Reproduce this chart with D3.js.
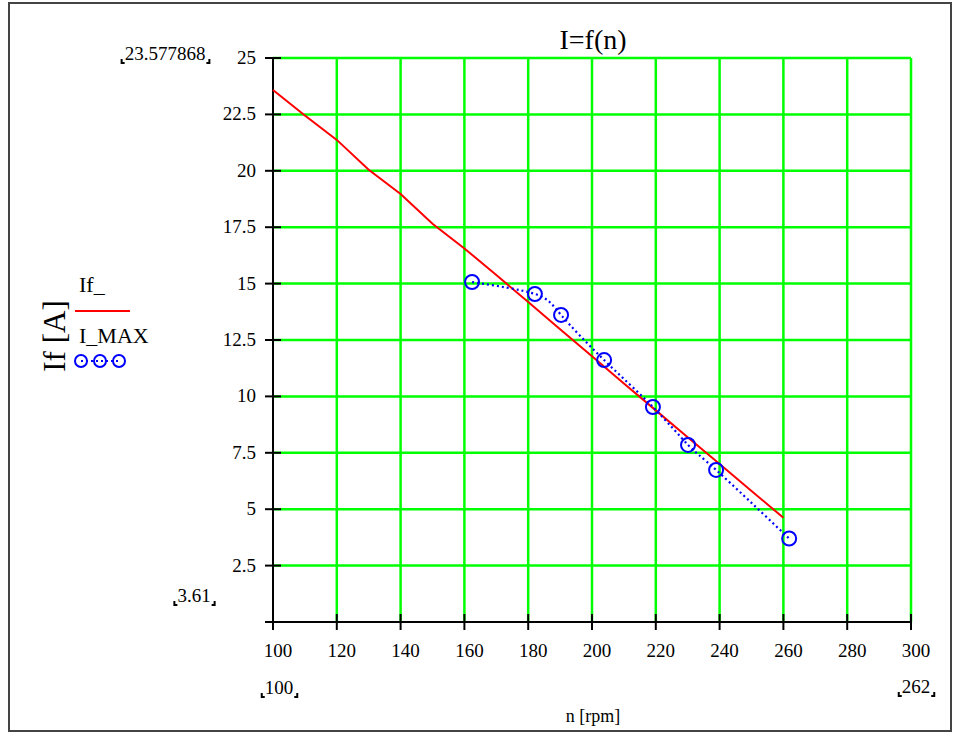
<!DOCTYPE html>
<html><head><meta charset="utf-8">
<script src="https://cdn.jsdelivr.net/npm/d3@7"></script>
<style>html,body{margin:0;padding:0;background:#fff;} svg{display:block;font-family:"Liberation Serif","Times New Roman",serif;}</style>
</head><body>
<script>
// Data
const ifN = [100,110,120,130,140,150,160,170,180,190,200,210,220,230,240,250,260];
const ifVals = [23.578,22.45,21.37,20.05,18.97,17.65,16.56,15.38,14.18,12.98,11.78,10.57,9.38,8.19,7.0,5.81,4.62];
const maxN = [162.4,182.1,190.3,203.8,219.1,230.1,238.9,261.8];
const maxVals = [15.07,14.54,13.61,11.61,9.53,7.85,6.74,3.7];
const xTicks = [100,120,140,160,180,200,220,240,260,280,300];
const yTicks = [2.5,5,7.5,10,12.5,15,17.5,20,22.5,25];
const yTickLabels = ["2.5","5","7.5","10","12.5","15","17.5","20","22.5","25"];

const W=954,H=733;
const svg=d3.select("body").append("svg").attr("width",W).attr("height",H);
const x=d3.scaleLinear().domain([100,300]).range([273,911]);
const y=d3.scaleLinear().domain([0,25]).range([622,58]);

// frame
svg.append("rect").attr("x",9).attr("y",3).attr("width",942).attr("height",728)
  .attr("fill","none").attr("stroke","#444").attr("stroke-width",2);

// grid
const g=svg.append("g");
g.selectAll(".vg").data(xTicks.slice(1)).join("line")
  .attr("x1",d=>x(d)).attr("x2",d=>x(d)).attr("y1",y(0)).attr("y2",y(25))
  .attr("stroke","#00ff00").attr("stroke-width",2.5);
g.selectAll(".hg").data(yTicks).join("line")
  .attr("x1",x(100)).attr("x2",x(300)).attr("y1",d=>y(d)).attr("y2",d=>y(d))
  .attr("stroke","#00ff00").attr("stroke-width",2.5);

// axes lines
svg.append("line").attr("x1",x(100)).attr("x2",x(100)).attr("y1",y(25)).attr("y2",y(0)+8).attr("stroke","#000").attr("stroke-width",2);
svg.append("line").attr("x1",x(100)-8).attr("x2",x(300)).attr("y1",y(0)).attr("y2",y(0)).attr("stroke","#000").attr("stroke-width",2);
// ticks
svg.selectAll(".yt").data(yTicks).join("line")
  .attr("x1",x(100)-8).attr("x2",x(100)+8).attr("y1",d=>y(d)).attr("y2",d=>y(d))
  .attr("stroke","#000").attr("stroke-width",2);
svg.selectAll(".xt").data(xTicks).join("line")
  .attr("x1",d=>x(d)).attr("x2",d=>x(d)).attr("y1",y(0)-8).attr("y2",y(0)+8)
  .attr("stroke","#000").attr("stroke-width",2);

// tick labels
svg.selectAll(".ytl").data(yTicks).join("text")
  .attr("x",256).attr("y",d=>y(d)+6).attr("text-anchor","end")
  .attr("font-size",19).text((d,i)=>yTickLabels[i]);
svg.selectAll(".xtl").data(xTicks).join("text")
  .attr("x",d=>x(d)+5).attr("y",657).attr("text-anchor","middle")
  .attr("font-size",19).text(d=>d);

// title and axis labels
svg.append("text").attr("x",593).attr("y",49).attr("text-anchor","middle").attr("font-size",28).text("I=f(n)");
svg.append("text").attr("x",593).attr("y",722).attr("text-anchor","middle").attr("font-size",18).text("n [rpm]");
svg.append("text").attr("transform","translate(65,336) rotate(-90)").attr("text-anchor","middle").attr("font-size",31).text("If [A]");

// bracketed limit labels
function brLabel(cx, base, txt, anchor){
  const t=svg.append("text").attr("x",cx).attr("y",base).attr("text-anchor",anchor).attr("font-size",19).text(txt);
  const bb=t.node().getBBox();
  const l=bb.x-3, r=bb.x+bb.width+4, b=base+3;
  svg.append("path").attr("d",`M${l},${b-4}V${b}H${l+3}`).attr("fill","none").attr("stroke","#000").attr("stroke-width",2);
  svg.append("path").attr("d",`M${r-3},${b}H${r}V${b-4}`).attr("fill","none").attr("stroke","#000").attr("stroke-width",2);
}
brLabel(165, 60, "23.577868", "middle");
brLabel(194, 602, "3.61", "middle");
brLabel(279, 694, "100", "middle");
brLabel(916, 693, "262", "middle");

// If_ line
const line=d3.line().x((d,i)=>x(ifN[i])).y(d=>y(d));
svg.append("path").attr("d",line(ifVals)).attr("fill","none").attr("stroke","#ff0000").attr("stroke-width",2);

// I_MAX spline
const line2=d3.line().x((d,i)=>x(maxN[i])).y(d=>y(d)).curve(d3.curveNatural);
svg.append("path").attr("d",line2(maxVals)).attr("fill","none").attr("stroke","#0000ff").attr("stroke-width",2.2).attr("stroke-dasharray","2,3");
svg.selectAll(".pt").data(maxVals).join("circle")
  .attr("cx",(d,i)=>x(maxN[i])).attr("cy",d=>y(d)).attr("r",7)
  .attr("fill","none").attr("stroke","#0000ff").attr("stroke-width",2);

// legend
svg.append("text").attr("x",79).attr("y",292).attr("font-size",22).text("If_");
svg.append("line").attr("x1",75).attr("x2",130).attr("y1",311).attr("y2",311).attr("stroke","#ff0000").attr("stroke-width",2);
svg.append("text").attr("x",79).attr("y",343).attr("font-size",22).text("I_MAX");
svg.append("line").attr("x1",81).attr("x2",119).attr("y1",361).attr("y2",361).attr("stroke","#0000ff").attr("stroke-width",2.2).attr("stroke-dasharray","2,3");
svg.selectAll(".lc").data([81,100,119]).join("circle")
  .attr("cx",d=>d).attr("cy",361).attr("r",6).attr("fill","none").attr("stroke","#0000ff").attr("stroke-width",2);
</script>
</body></html>
